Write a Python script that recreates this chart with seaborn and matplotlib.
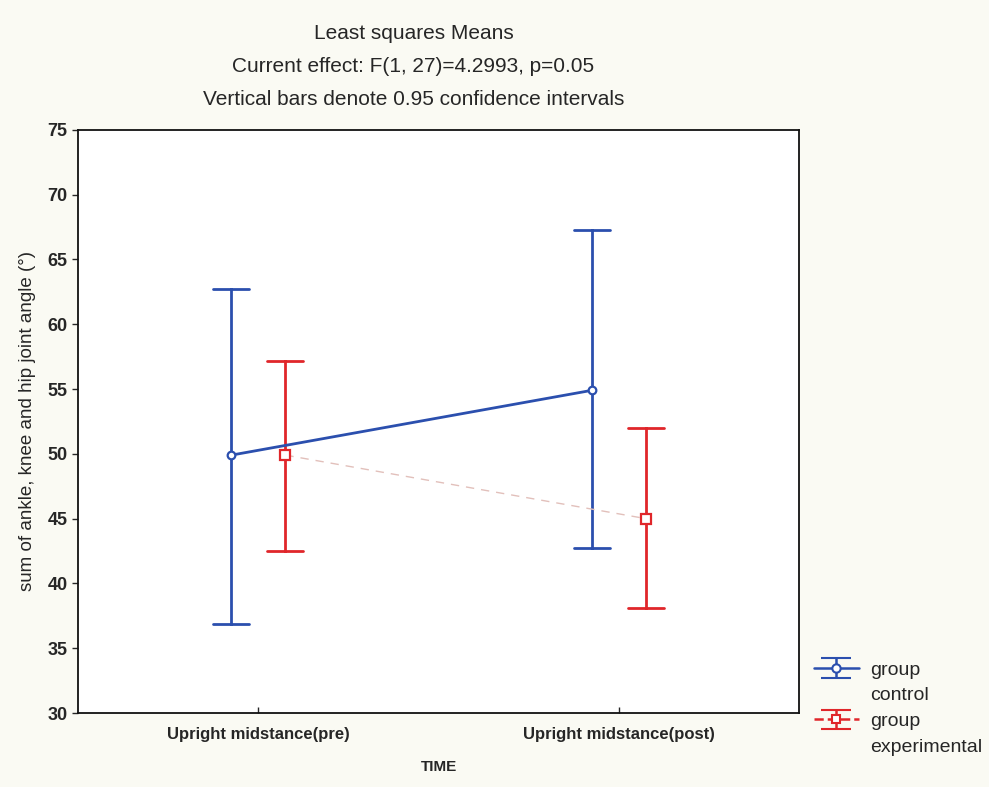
import numpy as np
import pandas as pd
import matplotlib
matplotlib.use('Agg')
import matplotlib.pyplot as plt
from matplotlib.lines import Line2D
import seaborn as sns

# least squares means with 0.95 CI
time_labels = ['Upright midstance(pre)', 'Upright midstance(post)']
groups = ['control', 'experimental']
control_mean = [49.9, 54.9]
control_low = [36.9, 42.7]
control_high = [62.7, 67.3]
exp_mean = [49.9, 45.0]
exp_low = [42.5, 38.1]
exp_high = [57.2, 52.0]

group_colors = {'control': '#2b4fae', 'experimental': '#e0262a'}

rows = []
for g, m, lo, hi in [('control', control_mean, control_low, control_high),
                     ('experimental', exp_mean, exp_low, exp_high)]:
    for i, t in enumerate(time_labels):
        for v in (lo[i], m[i], hi[i]):
            rows.append({'TIME': t, 'group': g, 'angle': v})
df = pd.DataFrame(rows)

sns.set_style('ticks')
plt.rcParams['font.family'] = ['Liberation Sans', 'DejaVu Sans']

fig = plt.figure(figsize=(9.89, 7.87), dpi=100, facecolor='#fafaf3')
ax = fig.add_axes([0.079, 0.094, 0.729, 0.741])
ax.set_facecolor('white')

# median of (low, mean, high) = mean, 100% percentile interval = CI
sns.pointplot(data=df, x='TIME', y='angle', hue='group', order=time_labels,
              hue_order=groups, palette=group_colors, estimator=np.median,
              errorbar=('pi', 100), dodge=0.15, capsize=0.1,
              markers=['o', 's'], linestyles=['-', '--'], ax=ax,
              err_kws={'linewidth': 2}, legend=False)

for ln in ax.lines:
    if ln.get_linestyle() == '--':
        ln.set_color('#e2c0bb')
        ln.set_linewidth(1)
        ln.set_dashes([6, 5])
        ln.set_markeredgecolor(group_colors['experimental'])
        ln.set_markerfacecolor('white')
        ln.set_markersize(7)
        ln.set_markeredgewidth(1.6)
        ln.set_zorder(5)
    elif ln.get_marker() == 'o':
        ln.set_markerfacecolor('white')
        ln.set_markersize(5.5)
        ln.set_markeredgewidth(1.6)
        ln.set_linewidth(2)
        ln.set_zorder(5)

ax.set_xlim(-0.5, 1.5)
ax.set_ylim(30, 75)
ax.set_yticks(np.arange(30, 76, 5))
ax.tick_params(axis='y', direction='out', length=4, width=1, labelsize=13)
ax.tick_params(axis='x', direction='in', length=4, width=1, labelsize=12, pad=10)
for lab in ax.get_yticklabels() + ax.get_xticklabels():
    lab.set_fontweight('bold')
for s in ax.spines.values():
    s.set_linewidth(1.3)
    s.set_color('#111111')

ax.set_xlabel('TIME', fontsize=11, fontweight='bold', labelpad=13)
ax.set_ylabel('sum of ankle, knee and hip joint angle (°)', fontsize=13.5, labelpad=8)

fig.text(0.418, 0.958, 'Least squares Means', ha='center', va='center', fontsize=15)
fig.text(0.418, 0.916, 'Current effect: F(1, 27)=4.2993, p=0.05', ha='center', va='center', fontsize=15)
fig.text(0.418, 0.873, 'Vertical bars denote 0.95 confidence intervals', ha='center', va='center', fontsize=15)

# legend with errorbar glyphs, label split so the glyph sits on "group"
h1 = ax.errorbar([np.nan], [np.nan], yerr=[1], color=group_colors['control'],
                 marker='o', mfc='white', ms=6, mew=1.5, capsize=11, lw=1.8)
h2 = ax.errorbar([np.nan], [np.nan], yerr=[1], color=group_colors['experimental'],
                 marker='s', mfc='white', ms=6, mew=1.5, capsize=11, lw=1.8, ls='--')
blank = Line2D([], [], alpha=0)
fig.legend([h1, blank, h2, blank], ['group', 'control', 'group', 'experimental'],
           loc='upper left', bbox_to_anchor=(0.815, 0.17), frameon=False,
           fontsize=14, handlelength=2.3, handletextpad=0.6, labelspacing=0.42,
           borderaxespad=0)

fig.savefig('out.png', dpi=100, facecolor=fig.get_facecolor())
